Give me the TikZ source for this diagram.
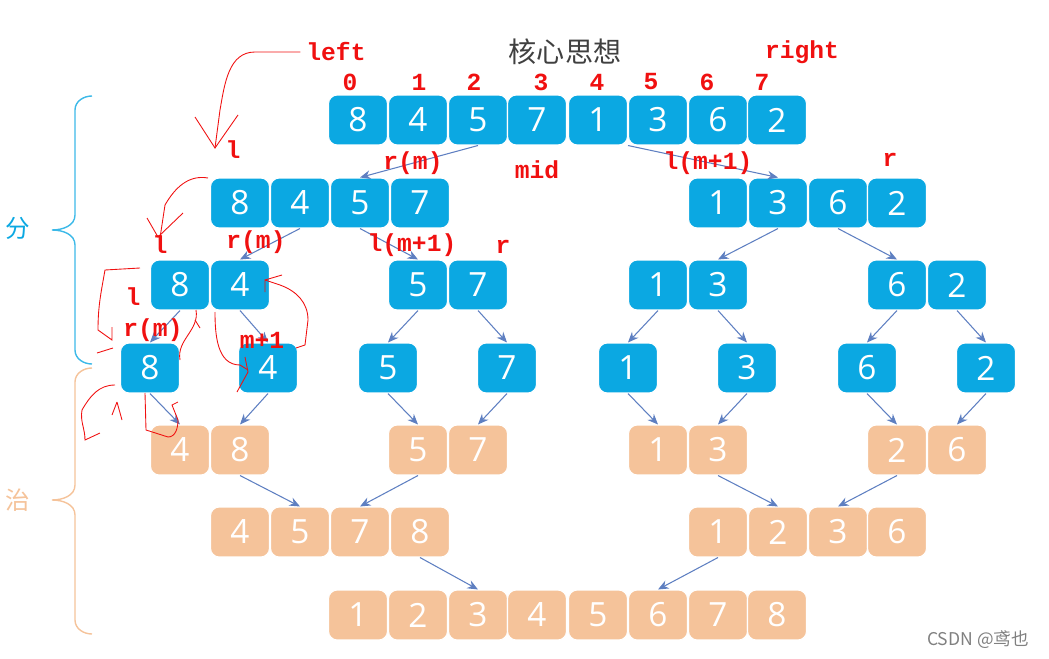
\documentclass[tikz,border=0pt]{standalone}
\usepackage{fontspec}
\newfontfamily\numfont{Open Sans}
\newfontfamily\cjk{Noto Sans CJK SC}
\newfontfamily\redfont{Liberation Mono}
\usetikzlibrary{arrows.meta,calc}
\definecolor{cblue}{HTML}{0BA8E2}
\definecolor{corange}{HTML}{F5C39A}
\definecolor{carrow}{HTML}{5E7FC1}
\definecolor{cred}{HTML}{F01010}
\tikzset{
  box/.style={rectangle, rounded corners=5pt, minimum width=1.18cm, minimum height=1cm,
    draw=white, line width=0.6pt, text=white, font=\numfont\fontsize{19}{19}\selectfont},
  blu/.style={box, fill=cblue},
  org/.style={box, fill=corange},
  link/.style={carrow, line width=0.6pt, -{Stealth[length=6pt,width=5pt]}},
  lab/.style={cred, font=\redfont\bfseries\fontsize{14}{14}\selectfont},
  hand/.style={cred, line width=0.5pt},
}
\begin{document}
\begin{tikzpicture}[x=0.02cm, y=-0.02cm]
    \useasboundingbox (0,0) rectangle (1049,659);
    % split rows
    \foreach \x/\v [count=\i] in {358/8,418/4,478/5,537/7,598/1,658/3,718/6,777/2}
        \node[blu] (a\i) at (\x,120) {\v};
    \foreach \i/\x/\v in {1/240/8,2/300/4,3/360/5,4/420/7,5/718/1,6/778/3,7/838/6,8/897/2}
        \node[blu] (b\i) at (\x,203) {\v};
    \foreach \i/\x/\v in {1/180/8,2/240/4,3/418/5,4/478/7,5/658/1,6/718/3,7/897/6,8/957/2}
        \node[blu] (c\i) at (\x,285) {\v};
    \foreach \i/\x/\v in {1/150/8,2/268/4,3/388/5,4/507/7,5/628/1,6/747/3,7/867/6,8/986/2}
        \node[blu] (d\i) at (\x,368) {\v};
    % merge rows
    \foreach \i/\x/\v in {1/180/4,2/240/8,3/418/5,4/478/7,5/658/1,6/718/3,7/897/2,8/957/6}
        \node[org] (e\i) at (\x,450) {\v};
    \foreach \i/\x/\v in {1/240/4,2/300/5,3/360/7,4/420/8,5/718/1,6/778/2,7/838/3,8/897/6}
        \node[org] (f\i) at (\x,532) {\v};
    \foreach \x/\v [count=\i] in {358/1,418/2,478/3,537/4,598/5,658/6,718/7,777/8}
        \node[org] (g\i) at (\x,615) {\v};
    % connectors
    \draw[link] (a3.south) -- (b3.north);
    \draw[link] (a5.south east) -- (b6.north);
    \draw[link] (b2.south) -- (c2.north);
    \draw[link] (b3.south) -- (c3.north);
    \draw[link] (b6.south) -- (c6.north);
    \draw[link] (b7.south) -- (c7.north);
    \foreach \i in {1,...,8} {
        \draw[link] (c\i.south) -- (d\i.north);
        \draw[link] (d\i.south) -- (e\i.north);
    }
    \draw[link] (e2.south) -- (f2.north);
    \draw[link] (e3.south) -- (f3.north);
    \draw[link] (e6.south) -- (f6.north);
    \draw[link] (e7.south) -- (f7.north);
    \draw[link] (f4.south) -- (g3.north);
    \draw[link] (f5.south) -- (g6.north);
    % braces
    \draw[cblue!80, line width=0.8pt] (92,96) to[out=180,in=90] (75,110) -- (75,215)
        to[out=-90,in=0] (52,230) to[out=0,in=90] (75,245) -- (75,350) to[out=-90,in=180] (92,364);
    \draw[corange, line width=0.8pt] (92,368) to[out=180,in=90] (75,382) -- (75,485)
        to[out=-90,in=0] (52,500) to[out=0,in=90] (75,515) -- (75,620) to[out=-90,in=180] (92,634);
    \node[cblue, font=\cjk\fontsize{14}{14}\selectfont] (fen) at (18,228) {分};
    \node[corange, font=\cjk\fontsize{14}{14}\selectfont] (zhi) at (18,500) {治};
    % labels
    \node[font=\cjk\fontsize{16}{16}\selectfont, black!75] (title) at (565,52) {核心思想};
    \node[lab] (left) at (336,52) {left};
    \node[lab] (right) at (802,52) {right};
    \foreach \x/\v in {350/0,419/1,474/2,541/3,597/4,651/5,707/6,762/7}
        \node[lab] at (\x,82) {\v};
    \node[lab] at (233,150) {l};
    \node[lab] at (413,163) {r(m)};
    \node[lab] at (537,170) {mid};
    \node[lab] at (708,163) {l(m+1)};
    \node[lab] at (890,160) {r};
    \node[lab] at (160,245) {l};
    \node[lab] at (256,242) {r(m)};
    \node[lab] at (412,245) {l(m+1)};
    \node[lab] at (503,247) {r};
    \node[lab] at (133,297) {l};
    \node[lab] at (153,330) {r(m)};
    \node[lab] at (262,340) {m+1};
    % freehand marks
    \draw[hand] (left.west) -- (255,52) to[out=180,in=80] (220,110) -- (215,148);
    \draw[hand] (195,117) -- (215,148) -- (238,115);
    \draw[hand] (208,178) to[out=170,in=60] (165,205) -- (160,238);
    \draw[hand] (147,218) -- (158,237) -- (183,213);
    \draw[hand] (140,268) -- (105,270) to[out=-100,in=90] (98,330) -- (112,340) -- (112,327);
    \draw[hand] (97,353) -- (113,348);
    \draw[hand] (265,292) -- (265,280) -- (280,285) to[out=-20,in=90] (308,320) -- (305,345) -- (296,348);
    \draw[hand] (265,280) -- (282,275);
    \draw[hand] (215,312) to[out=-90,in=180] (240,365) -- (248,370);
    \draw[hand] (245,357) -- (248,372) -- (237,392);
    \draw[hand] (196,310) to[out=-80,in=100] (180,360);
    \draw[hand] (195,320) -- (200,328);
    \draw[hand] (115,385) to[out=180,in=60] (82,410) to[out=-100,in=90] (85,440) -- (100,433);
    \draw[hand] (117,402) -- (112,415) (117,402) -- (122,420);
    \draw[hand] (145,393) -- (146,430) -- (168,437) to[out=0,in=-90] (178,420) -- (172,405) -- (178,402);
    \node[gray, font=\cjk\fontsize{10}{10}\selectfont] (mark) at (978,640) {CSDN @鸢也};
\end{tikzpicture}
\end{document}
